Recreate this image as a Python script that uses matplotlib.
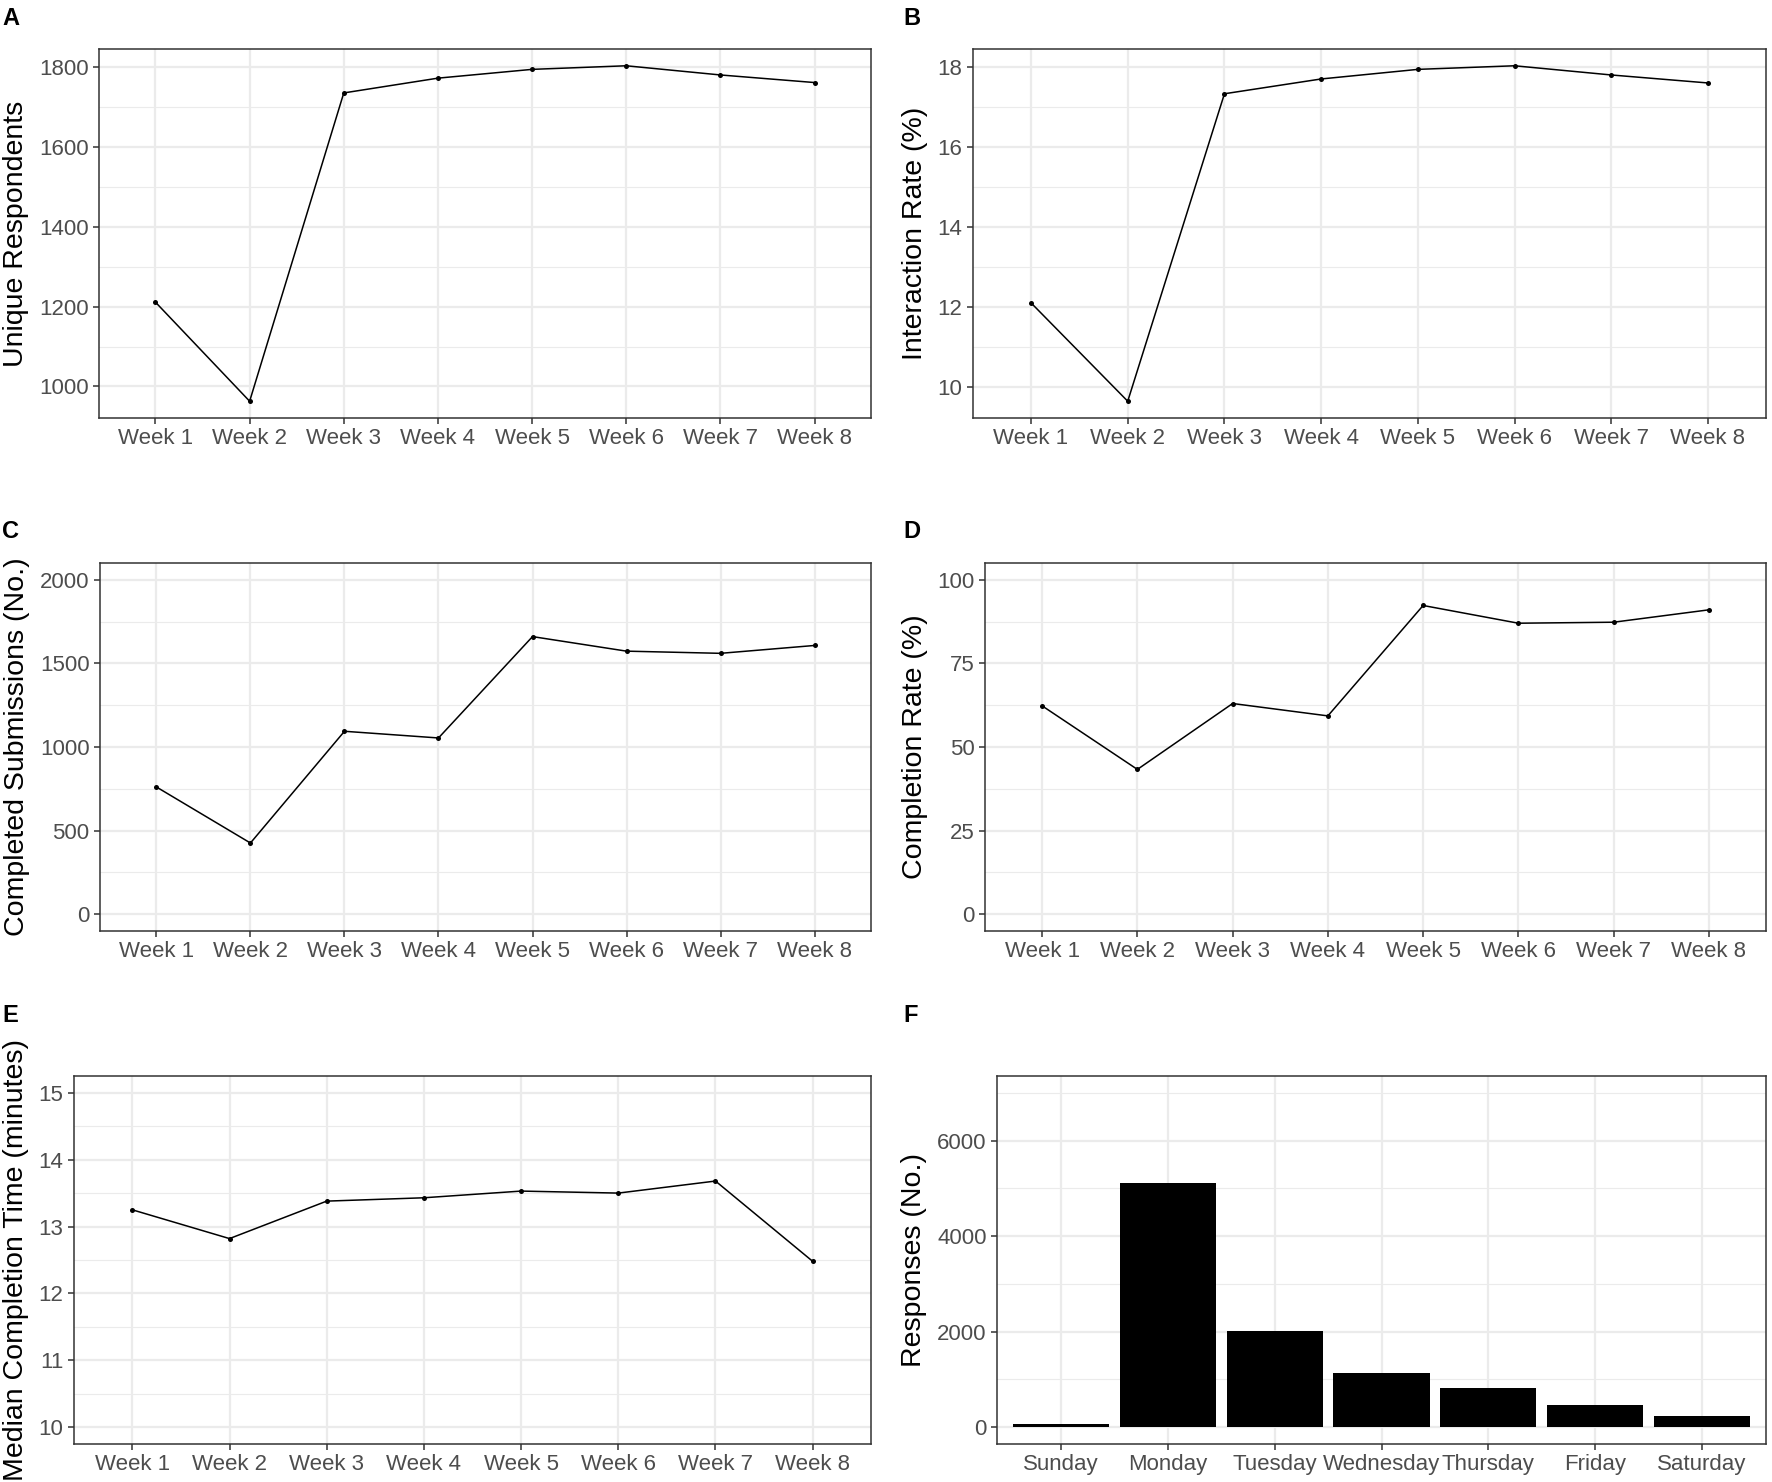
import matplotlib
matplotlib.use('Agg')
import matplotlib.pyplot as plt
from matplotlib.ticker import MultipleLocator, AutoMinorLocator

# ---------------------------------------------------------------------------
# Data
weeks = ['Week 1', 'Week 2', 'Week 3', 'Week 4', 'Week 5', 'Week 6', 'Week 7', 'Week 8']
respondents = [1211, 963, 1735, 1772, 1794, 1803, 1780, 1761]
interaction_rate = [12.1, 9.64, 17.33, 17.70, 17.94, 18.03, 17.80, 17.60]
completed = [761, 426, 1094, 1054, 1660, 1573, 1560, 1607]
completion_rate = [62.3, 43.3, 63.0, 59.3, 92.3, 87.0, 87.3, 91.0]
median_time = [13.25, 12.82, 13.38, 13.43, 13.53, 13.50, 13.68, 12.48]

days = ['Sunday', 'Monday', 'Tuesday', 'Wednesday', 'Thursday', 'Friday', 'Saturday']
responses = [60, 5106, 2024, 1130, 824, 470, 235]
# ---------------------------------------------------------------------------

W, H = 1772, 1482
plt.rcParams['font.family'] = ['Liberation Sans', 'DejaVu Sans']

fig = plt.figure(figsize=(W / 100, H / 100), dpi=100)
fig.patch.set_facecolor('white')


def make_axes(x0, y0, x1, y1):
    # pixel box -> figure fraction
    return fig.add_axes([x0 / W, 1 - y1 / H, (x1 - x0) / W, (y1 - y0) / H])


def style_axes(ax, ylabel):
    ax.set_facecolor('white')
    for s in ax.spines.values():
        s.set_color('#333333')
        s.set_linewidth(1.1)
    ax.grid(which='major', color='#EBEBEB', linewidth=1.6, zorder=0)
    ax.yaxis.set_minor_locator(AutoMinorLocator(2))
    ax.grid(which='minor', axis='y', color='#EBEBEB', linewidth=0.8, zorder=0)
    ax.tick_params(which='major', length=4.5, width=1.1, color='#333333',
                   labelsize=16, labelcolor='#4D4D4D', pad=3)
    ax.tick_params(which='minor', length=0)
    ax.set_axisbelow(True)
    ax.set_ylabel(ylabel, fontsize=20.5, color='black', labelpad=7)


def line_panel(ax, values, ylabel, ylim=None, step=None):
    x = list(range(len(weeks)))
    ax.plot(x, values, color='black', linewidth=1.1, zorder=3)
    ax.scatter(x, values, s=13, color='black', zorder=4, linewidths=0)
    ax.set_xticks(x)
    ax.set_xticklabels(weeks)
    ax.set_xlim(-0.6, len(weeks) - 0.4)
    if ylim is None:
        lo, hi = min(values), max(values)
    else:
        lo, hi = ylim
    pad = (hi - lo) * 0.05
    ax.set_ylim(lo - pad, hi + pad)
    if step is not None:
        ax.yaxis.set_major_locator(MultipleLocator(step))
    style_axes(ax, ylabel)


# Panel A
axA = make_axes(99, 49, 871, 418)
line_panel(axA, respondents, 'Unique Respondents', step=200)

# Panel B
axB = make_axes(973, 49, 1766, 418)
line_panel(axB, interaction_rate, 'Interaction Rate (%)', step=2)

# Panel C
axC = make_axes(100, 563, 871, 931)
line_panel(axC, completed, 'Completed Submissions (No.)', ylim=(0, 2000), step=500)

# Panel D
axD = make_axes(985, 563, 1766, 931)
line_panel(axD, completion_rate, 'Completion Rate (%)', ylim=(0, 100), step=25)

# Panel E
axE = make_axes(74, 1076, 871, 1444)
line_panel(axE, median_time, 'Median Completion Time (minutes)', ylim=(10, 15), step=1)

# Panel F
axF = make_axes(997, 1076, 1766, 1444)
xd = list(range(len(days)))
axF.bar(xd, responses, width=0.9, color='black', zorder=3)
axF.set_xticks(xd)
axF.set_xticklabels(days)
axF.set_xlim(-0.6, len(days) - 0.4)
axF.set_ylim(-350, 7350)
axF.yaxis.set_major_locator(MultipleLocator(2000))
style_axes(axF, 'Responses (No.)')

# Panel letters
for lab, (px, py) in zip('ABCDEF', [(2, 7), (903, 7), (2, 520), (903, 520),
                                     (2, 1004), (903, 1004)]):
    fig.text(px / W, 1 - py / H, lab, fontsize=17, fontweight='bold',
             va='top', ha='left')

fig.savefig('out.png', dpi=100, facecolor='white')
